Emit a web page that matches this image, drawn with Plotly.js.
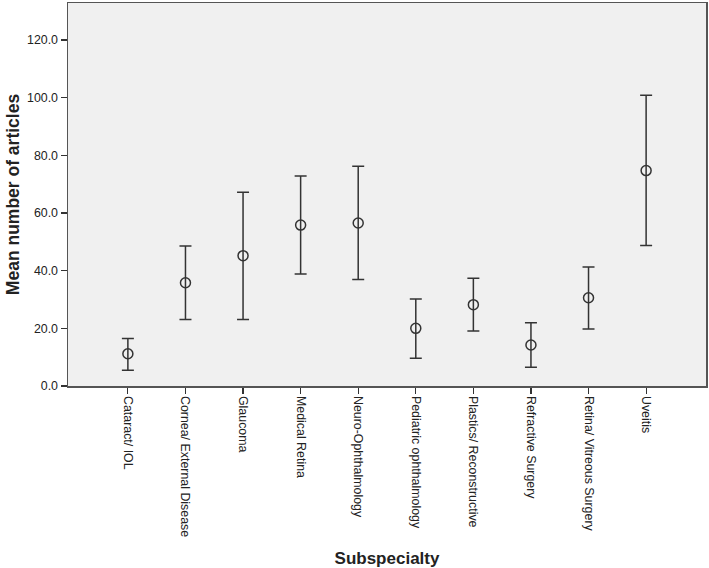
<!DOCTYPE html>
<html>
<head>
<meta charset="utf-8">
<script src="https://cdn.plot.ly/plotly-3.0.1.min.js"></script>
<style>html,body{margin:0;padding:0;background:#fff;}#chart{width:709px;height:568px;}</style>
</head>
<body>
<div id="chart"></div>
<script>
var categories = ["Cataract/ IOL", "Cornea/ External Disease", "Glaucoma", "Medical Retina", "Neuro-Ophthalmology", "Pediatric ophthalmology", "Plastics/ Reconstructive", "Refractive Surgery", "Retina/ Vitreous Surgery", "Uveitis"];
var meanArticles = [11.2, 35.8, 45.2, 55.8, 56.5, 20.0, 28.2, 14.2, 30.6, 74.7];
var upperCI = [16.5, 48.5, 67.2, 72.8, 76.2, 30.2, 37.4, 21.9, 41.3, 100.8];
var lowerCI = [5.5, 23.1, 23.1, 38.8, 36.9, 9.6, 19.1, 6.5, 19.8, 48.7];
var yTicks = [0, 20, 40, 60, 80, 100, 120];

var xIdx = categories.map(function (c, i) { return i; });
var errPlus = upperCI.map(function (u, i) { return u - meanArticles[i]; });
var errMinus = lowerCI.map(function (l, i) { return meanArticles[i] - l; });

var trace = {
  type: "scatter",
  mode: "markers",
  x: xIdx,
  y: meanArticles,
  marker: { symbol: "circle-open", size: 10, color: "#333", line: { width: 1.5, color: "#333" } },
  error_y: { type: "data", symmetric: false, array: errPlus, arrayminus: errMinus, color: "#333", thickness: 1.5, width: 6 },
  showlegend: false,
  hoverinfo: "none"
};

var layout = {
  width: 709, height: 568,
  margin: { l: 68, r: 3, t: 3, b: 182 },
  paper_bgcolor: "#ffffff",
  plot_bgcolor: "#f0f0f0",
  font: { family: "Liberation Sans, Arial, sans-serif", size: 12, color: "#222" },
  xaxis: {
    range: [-1.04, 10.04],
    tickmode: "array",
    tickvals: xIdx,
    ticktext: categories,
    tickangle: 90,
    ticks: "outside", ticklen: 6, tickwidth: 1.2, tickcolor: "#333",
    showgrid: false, zeroline: false,
    showline: true, linecolor: "#555", linewidth: 1.5, mirror: true,
    tickfont: { size: 12.4, color: "#222" },
    title: { text: "<b>Subspecialty</b>", font: { size: 17, color: "#222" }, standoff: 19 },
    automargin: false
  },
  yaxis: {
    range: [0, 132.8],
    tickmode: "array",
    tickvals: yTicks,
    ticktext: yTicks.map(function (v) { return v.toFixed(1); }),
    ticks: "outside", ticklen: 6, tickwidth: 1.2, tickcolor: "#333",
    showgrid: false, zeroline: false,
    showline: true, linecolor: "#555", linewidth: 1.5, mirror: true,
    tickfont: { size: 12.4, color: "#222" },
    title: { text: "<b>Mean number of articles</b>", font: { size: 17.5, color: "#222" }, standoff: 3 },
    automargin: false
  }
};

Plotly.newPlot("chart", [trace], layout, { staticPlot: true, displayModeBar: false });
</script>
</body>
</html>
